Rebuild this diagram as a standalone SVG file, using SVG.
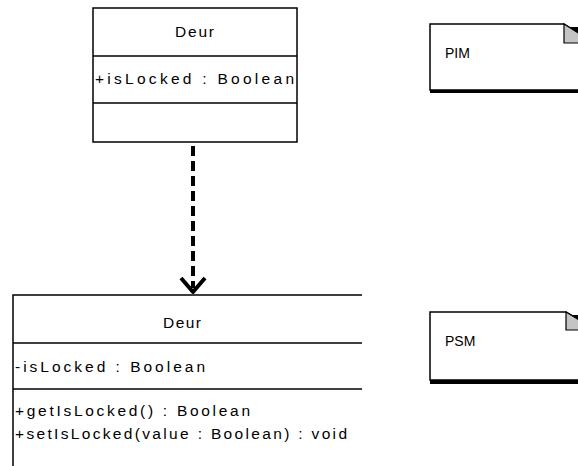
<svg xmlns="http://www.w3.org/2000/svg" width="578" height="466" viewBox="0 0 578 466">
  <defs>
    <style>
      .box { fill: #ffffff; stroke: #000000; stroke-width: 1.5; }
      .div { stroke: #000000; stroke-width: 1.5; fill: none; }
      .txt { font-family: "Liberation Sans", Arial, sans-serif; font-size: 15.5px; fill: #000000; }
      .lbl { font-family: "Liberation Sans", Arial, sans-serif; font-size: 14px; fill: #000000; }
      .fold { fill: #c4c4c4; stroke: #000000; stroke-width: 1.2; }
      .dep { stroke: #000000; stroke-width: 4; stroke-dasharray: 10 5; fill: none; }
      .head { stroke: #000000; stroke-width: 4; fill: none; stroke-linejoin: round; }
    </style>
  </defs>
  <rect width="578" height="466" fill="#ffffff"/>

  <g id="class-deur-pim">
    <rect class="box" x="93" y="8" width="204" height="134"/>
    <line class="div" x1="93" y1="56" x2="297" y2="56"/>
    <line class="div" x1="93" y1="103" x2="297" y2="103"/>
    <text class="txt" x="175" y="37" textLength="39" lengthAdjust="spacing">Deur</text>
    <text class="txt" x="95" y="84" textLength="199" lengthAdjust="spacing">+isLocked : Boolean</text>
  </g>

  <g id="class-deur-psm">
    <path class="box" d="M362 295 H13 V475 H362"/>
    <line class="div" x1="13" y1="343" x2="362" y2="343"/>
    <line class="div" x1="13" y1="389" x2="362" y2="389"/>
    <text class="txt" x="163" y="328" textLength="38" lengthAdjust="spacing">Deur</text>
    <text class="txt" x="15" y="372" textLength="190" lengthAdjust="spacing">-isLocked : Boolean</text>
    <text class="txt" x="15" y="416" textLength="235" lengthAdjust="spacing">+getIsLocked() : Boolean</text>
    <text class="txt" x="15" y="439" textLength="332" lengthAdjust="spacing">+setIsLocked(value : Boolean) : void</text>
  </g>

  <g id="note-pim">
    <rect x="430" y="27" width="150" height="66" fill="#000000"/>
    <path class="box" d="M430 24 H564 L594 43 V90 H430 Z"/>
    <path class="fold" d="M564 24 V43 H594 Z"/>
    <text class="lbl" x="445" y="58">PIM</text>
  </g>

  <g id="note-psm">
    <rect x="430" y="315" width="150" height="69" fill="#000000"/>
    <path class="box" d="M430 312 H566 L596 330 V380 H430 Z"/>
    <path class="fold" d="M566 312 V330 H596 Z"/>
    <text class="lbl" x="445" y="346">PSM</text>
  </g>

  <g id="connectors">
    <line class="dep" x1="193" y1="146" x2="193" y2="288"/>
    <polyline class="head" points="181,278 193,292 205,278"/>
  </g>
</svg>
